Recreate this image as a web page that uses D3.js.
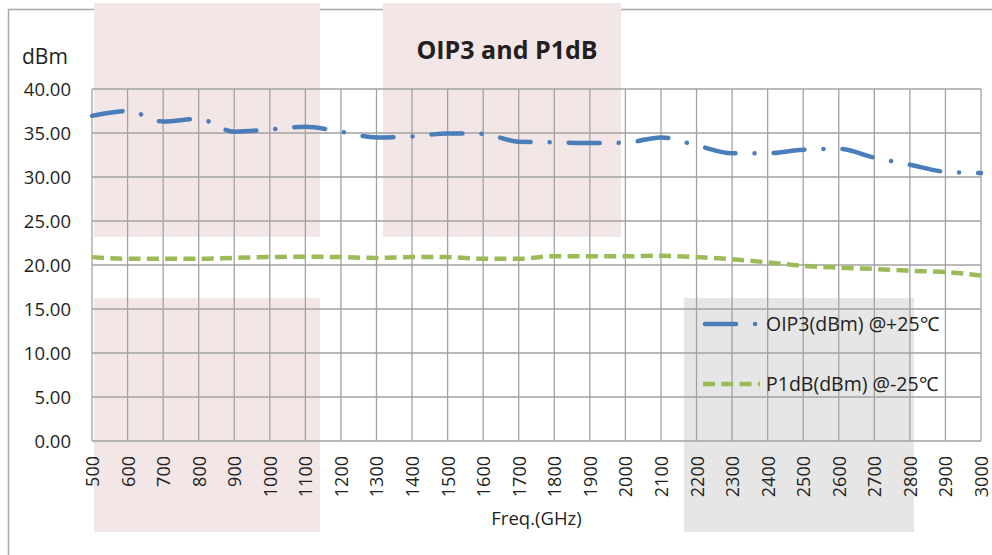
<!DOCTYPE html>
<html>
<head>
<meta charset="utf-8">
<script src="https://cdn.jsdelivr.net/npm/d3@7"></script>
<style>
  body { margin: 0; background: #fff; }
  svg { display: block; }
</style>
</head>
<body>
<svg id="chart" width="992" height="555"></svg>
<script>
// frequency points (MHz, labelled GHz on the axis)
var freqs = [500, 600, 700, 800, 900, 1000, 1100, 1200, 1300, 1400, 1500, 1600, 1700,
             1800, 1900, 2000, 2100, 2200, 2300, 2400, 2500, 2600, 2700, 2800, 2900, 3000];

var oip3 = [36.95, 37.5, 36.3, 36.6, 35.15, 35.4, 35.7, 35.15, 34.5, 34.6, 34.95, 34.9, 34.0,
            33.95, 33.85, 33.9, 34.5, 33.6, 32.7, 32.7, 33.1, 33.2, 32.2, 31.4, 30.6, 30.45];

var p1db = [20.9, 20.7, 20.7, 20.7, 20.8, 20.9, 20.95, 20.9, 20.8, 20.9, 20.9, 20.7, 20.7,
            21.0, 21.0, 21.0, 21.05, 20.9, 20.65, 20.3, 19.9, 19.7, 19.55, 19.35, 19.2, 18.8];

var yTicks = [0, 5, 10, 15, 20, 25, 30, 35, 40];

var seriesNames = ["OIP3(dBm) @+25\u2103", "P1dB(dBm) @-25\u2103"];

var svg = d3.select("#chart");
var margin = {top: 89, right: 11, bottom: 114, left: 92};
var width = 992 - margin.left - margin.right,
    height = 555 - margin.top - margin.bottom;

var x = d3.scaleLinear().domain([500, 3000]).range([margin.left, margin.left + width]);
var y = d3.scaleLinear().domain([0, 40]).range([margin.top + height, margin.top]);

var textColor = "#231f20";
var gridColor = "#a2a2a2";

// outer chart frame
svg.append("rect")
    .attr("x", 8.5).attr("y", 9.5)
    .attr("width", 1000).attr("height", 560)
    .attr("fill", "#fff")
    .attr("stroke", "#a9a9a9")
    .attr("stroke-width", 1.5);

// shaded blocks sitting behind the grid
var blocks = [
    {x0: 94, y0: 3, x1: 320, y1: 237, fill: "#f3e6e7"},
    {x0: 383, y0: 3, x1: 621, y1: 237, fill: "#f3e6e7"},
    {x0: 94, y0: 298, x1: 320, y1: 532, fill: "#f3e6e7"},
    {x0: 684, y0: 298, x1: 914, y1: 532, fill: "#e6e6e6"}
];
svg.append("g").selectAll("rect")
    .data(blocks)
    .enter().append("rect")
    .attr("x", d => d.x0).attr("y", d => d.y0)
    .attr("width", d => d.x1 - d.x0).attr("height", d => d.y1 - d.y0)
    .attr("fill", d => d.fill);

// grid
var grid = svg.append("g").attr("stroke", gridColor).attr("stroke-width", 1.3);
grid.selectAll("line.v")
    .data(freqs)
    .enter().append("line")
    .attr("class", "v")
    .attr("x1", d => x(d)).attr("x2", d => x(d))
    .attr("y1", y(40)).attr("y2", y(0));
grid.selectAll("line.h")
    .data(yTicks)
    .enter().append("line")
    .attr("class", "h")
    .attr("x1", x(500)).attr("x2", x(3000))
    .attr("y1", d => y(d)).attr("y2", d => y(d));

// y axis labels
svg.append("g")
    .attr("transform", "translate(" + (margin.left - 21) + ",0)")
    .call(d3.axisLeft(y).tickValues(yTicks).tickSize(0).tickFormat(d3.format(".2f")))
    .call(g => g.select(".domain").remove())
    .selectAll("text")
    .attr("font-family", "'Open Sans', sans-serif")
    .attr("font-size", 18.5)
    .attr("fill", textColor)
    .attr("x", 0)
    .attr("dy", "0.36em");

// x axis labels, rotated
svg.append("g")
    .attr("transform", "translate(0," + (margin.top + height) + ")")
    .call(d3.axisBottom(x).tickValues(freqs).tickSize(0).tickFormat(d3.format("d")))
    .call(g => g.select(".domain").remove())
    .selectAll("text")
    .attr("font-family", "'Open Sans', sans-serif")
    .attr("font-size", 18)
    .attr("fill", textColor)
    .attr("text-anchor", "end")
    .attr("transform", "rotate(-90)")
    .attr("x", -15)
    .attr("y", 0)
    .attr("dy", "0.36em");

var line = d3.line()
    .x((d, i) => x(freqs[i]))
    .y(d => y(d))
    .curve(d3.curveMonotoneX);

svg.append("path")
    .datum(p1db)
    .attr("fill", "none")
    .attr("stroke", "#9bbb59")
    .attr("stroke-width", 4.5)
    .attr("stroke-dasharray", "12 6.3")
    .attr("d", line);

svg.append("path")
    .datum(oip3)
    .attr("fill", "none")
    .attr("stroke", "#4a7ebb")
    .attr("stroke-width", 4.5)
    .attr("stroke-linecap", "round")
    .attr("stroke-dasharray", "31 19 0.1 19")
    .attr("d", line);

// titles
svg.append("text")
    .attr("x", 507).attr("y", 59)
    .attr("text-anchor", "middle")
    .attr("font-family", "'Open Sans', sans-serif")
    .attr("font-weight", "bold")
    .attr("font-size", 25)
    .attr("fill", textColor)
    .text("OIP3 and P1dB");

svg.append("text")
    .attr("x", 22).attr("y", 64)
    .attr("font-family", "'Open Sans', sans-serif")
    .attr("font-size", 21)
    .attr("fill", textColor)
    .text("dBm");

svg.append("text")
    .attr("x", x((500 + 3000) / 2)).attr("y", 525)
    .attr("text-anchor", "middle")
    .attr("font-family", "'Open Sans', sans-serif")
    .attr("font-size", 18.5)
    .attr("fill", textColor)
    .text("Freq.(GHz)");

// legend
var legend = [
    {name: seriesNames[0], color: "#4a7ebb", dash: "31 19 0.1 19", cap: "round", y: 324},
    {name: seriesNames[1], color: "#9bbb59", dash: "12 6.3", cap: "butt", y: 384}
];
var lg = svg.append("g").selectAll("g")
    .data(legend)
    .enter().append("g");
lg.append("line")
    .attr("x1", d => d.cap === "round" ? 705 : 703)
    .attr("x2", 760)
    .attr("y1", d => d.y).attr("y2", d => d.y)
    .attr("stroke", d => d.color)
    .attr("stroke-width", 4.5)
    .attr("stroke-linecap", d => d.cap)
    .attr("stroke-dasharray", d => d.dash);
lg.append("text")
    .attr("x", 766)
    .attr("y", d => d.y + 7)
    .attr("font-family", "'Open Sans', sans-serif")
    .attr("font-size", 19.5)
    .attr("fill", textColor)
    .text(d => d.name);
</script>
</body>
</html>
